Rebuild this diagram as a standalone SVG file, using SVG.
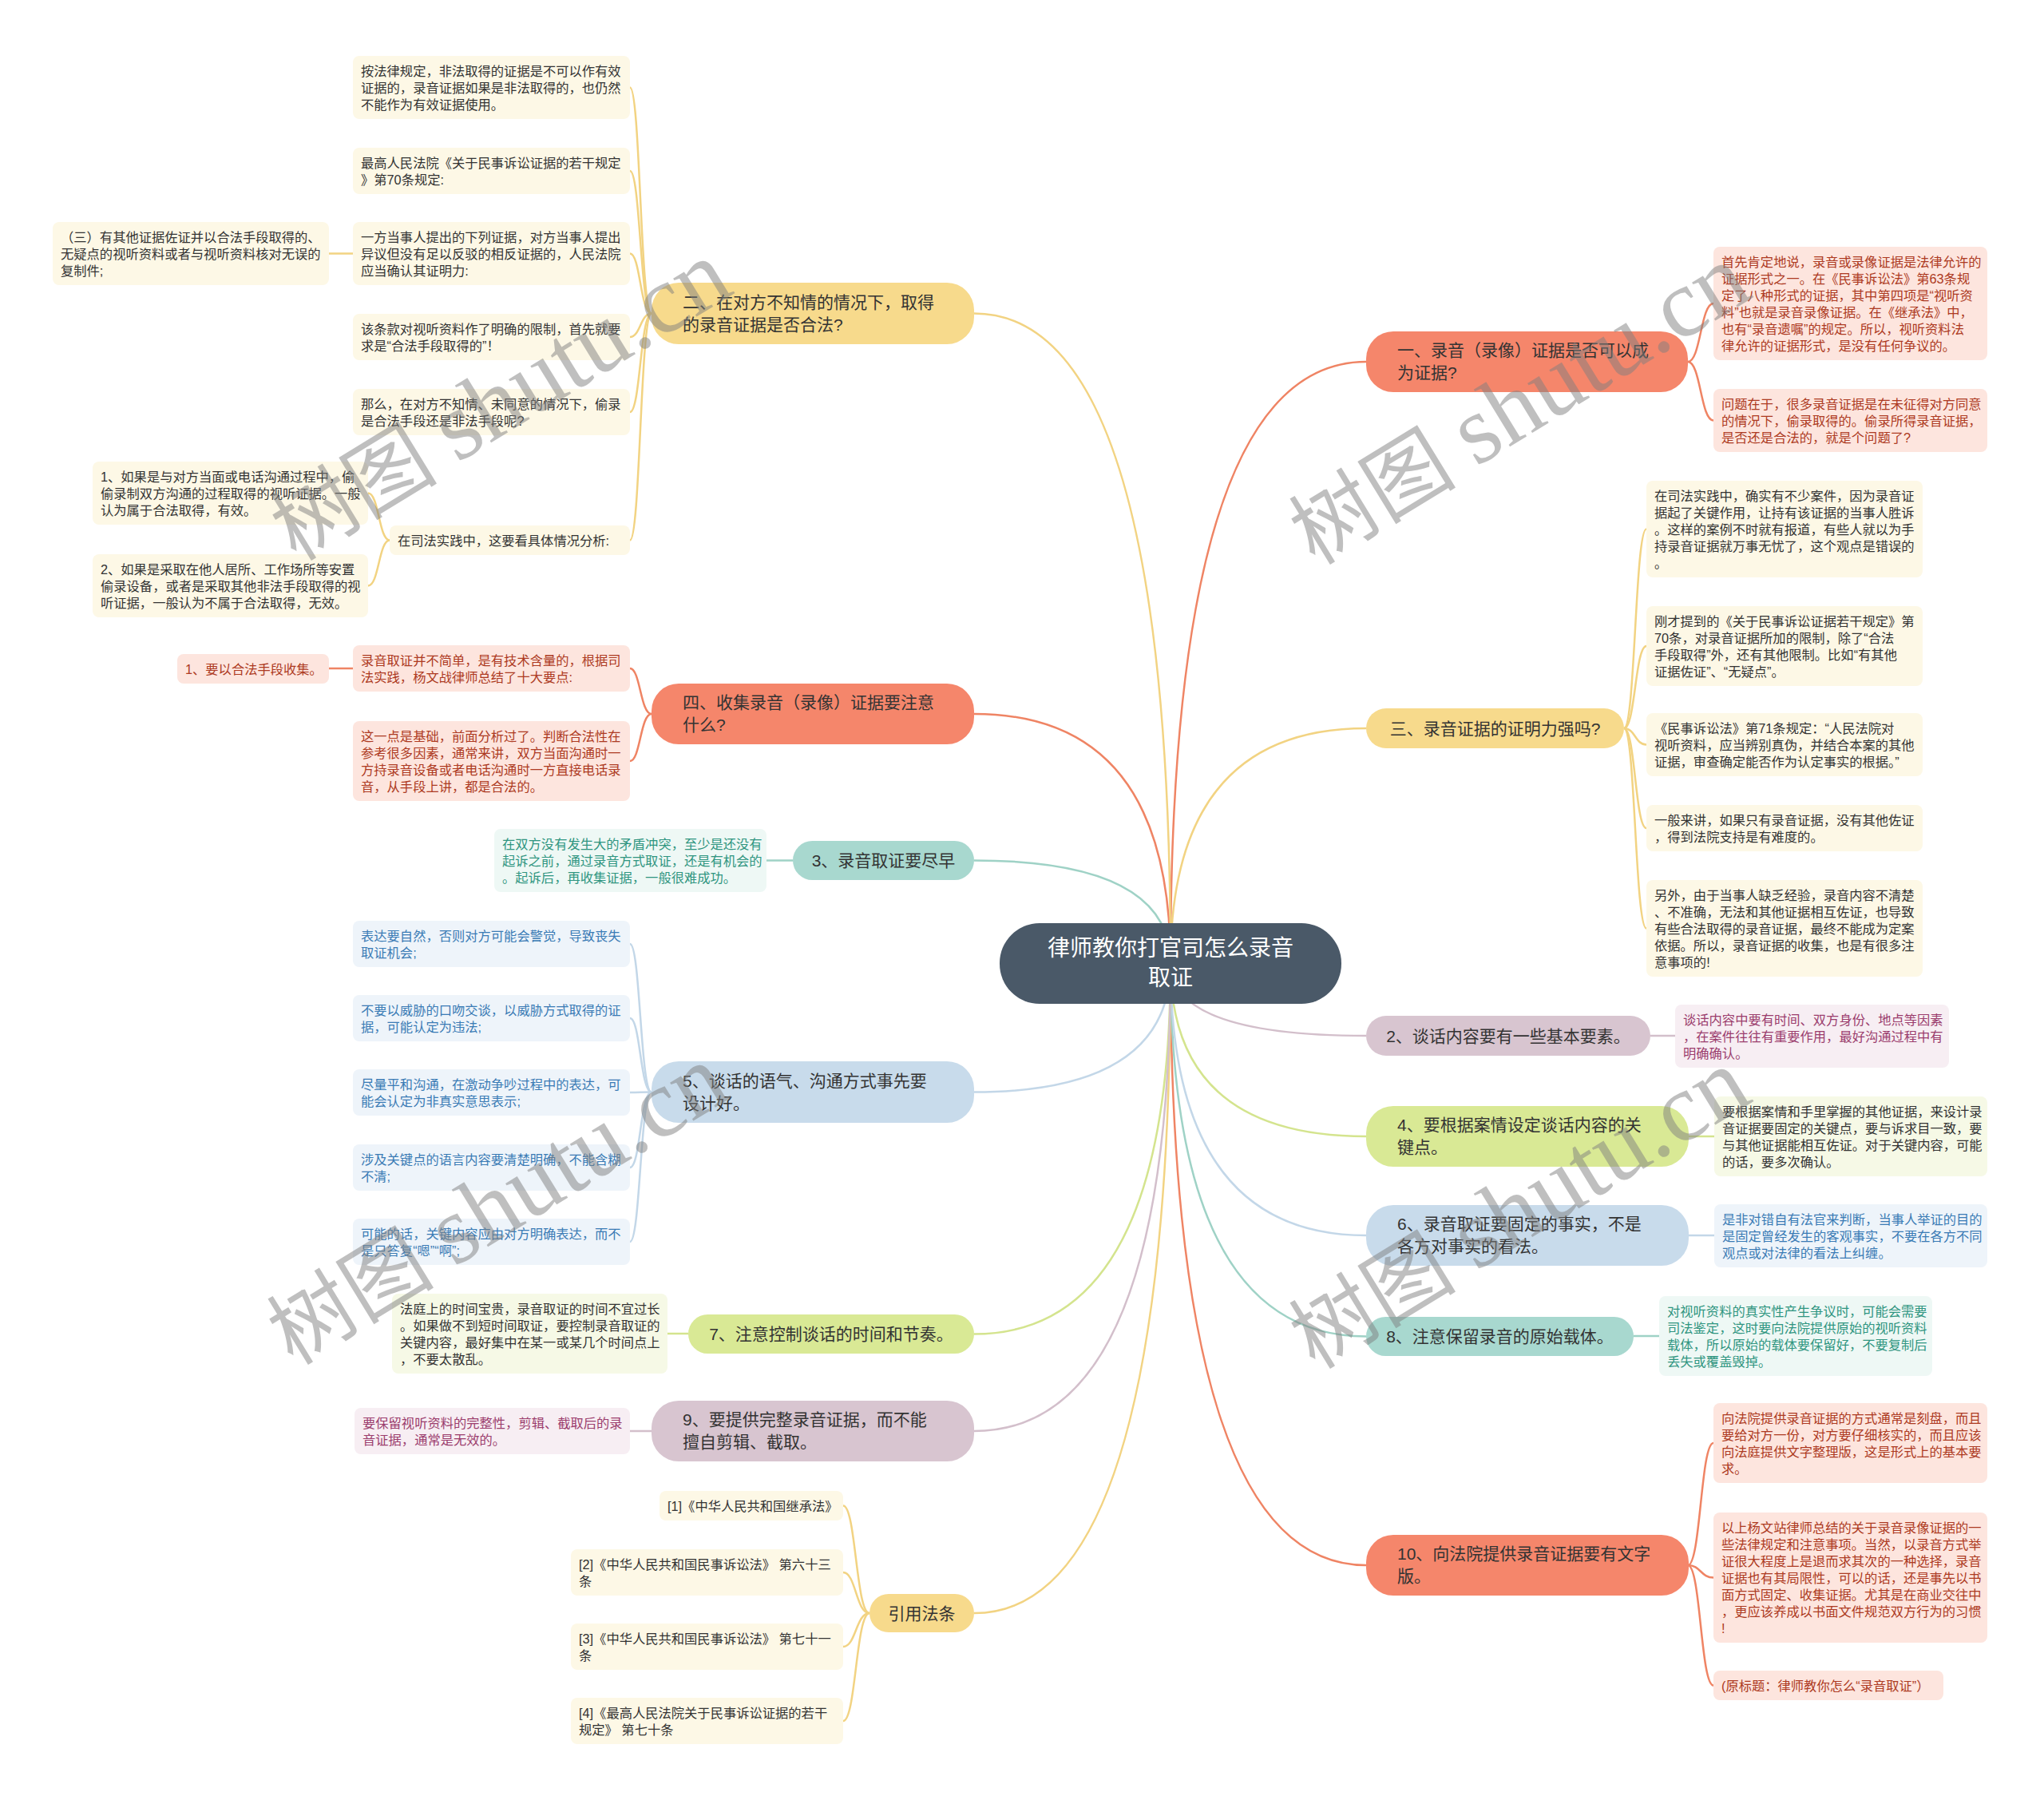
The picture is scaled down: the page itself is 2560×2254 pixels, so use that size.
<svg xmlns="http://www.w3.org/2000/svg" width="2560" height="2254" viewBox="0 0 2560 2254">
<style>
text{font-family:'Liberation Sans','Noto Sans CJK SC',sans-serif}
.lf{font-size:16.3px}
.nd{font-size:21px;fill:#333}
.ctr{font-size:28px;fill:#fff}
.tc{fill:#ad3a22}.td{fill:#333}.tt{fill:#2f9580}.tb{fill:#3a7bb5}.tm{fill:#9b3d6d}
.bc{fill:#fde5de}.by{fill:#fdf8e6}.bt{fill:#eef8f5}.bb{fill:#eef4fa}.bg{fill:#f6f9e6}.bm{fill:#f7eef3}
.nc{fill:#f5866b}.ny{fill:#f7da8c}.nt{fill:#a8d8cf}.nb{fill:#c8dbeb}.ng{fill:#d9e995}.nm{fill:#d8c5d0}
.cn path{fill:none;stroke-width:2.5}
.sc{stroke:#ef8464}.sy{stroke:#f2d382}.st{stroke:#9fd2c6}.sb{stroke:#c3d7e8}.sg{stroke:#d4e48e}.sm{stroke:#d3bfcb}
.wm{font-family:'Liberation Serif','Noto Sans CJK SC',serif;font-size:105px;fill:#808080;opacity:0.5}
.wl{font-size:122px}
</style>
<rect width="2560" height="2254" fill="#fff"/>
<g id="connectors" class="cn">
<g class="sc">
<path d="M1466 1206 Q1466 453 1711 453"/>
<path d="M1466 1206 Q1466 894 1220 894"/>
<path d="M1466 1206 Q1466 1960 1711 1960"/>
<path d="M2114 453 C2130 453 2130 380 2146 380"/>
<path d="M2114 453 C2130 453 2130 526.5 2146 526.5"/>
<path d="M816 894 C802 894 802 837 789 837"/>
<path d="M816 894 C802 894 802 953 789 953"/>
<path d="M442 837 L412 837"/>
<path d="M2114 1960 C2130 1960 2130 1807 2146 1807"/>
<path d="M2114 1960 C2130 1960 2130 1975.5 2146 1975.5"/>
<path d="M2114 1960 C2130 1960 2130 2110.5 2146 2110.5"/>
</g>
<g class="sy">
<path d="M1466 1206 Q1466 392.5 1220 392.5"/>
<path d="M1466 1206 Q1466 912 1711 912"/>
<path d="M1466 1206 Q1466 2020 1220 2020"/>
<path d="M816 392.5 C802 392.5 802 109.5 789 109.5"/>
<path d="M816 392.5 C802 392.5 802 214 789 214"/>
<path d="M816 392.5 C802 392.5 802 317.5 789 317.5"/>
<path d="M816 392.5 C802 392.5 802 422 789 422"/>
<path d="M816 392.5 C802 392.5 802 516 789 516"/>
<path d="M816 392.5 C802 392.5 802 676.5 789 676.5"/>
<path d="M442 317.5 L412 317.5"/>
<path d="M488 676.5 C474.5 676.5 474.5 617.5 461 617.5"/>
<path d="M488 676.5 C474.5 676.5 474.5 733.5 461 733.5"/>
<path d="M2034 912 C2048 912 2048 662.5 2062 662.5"/>
<path d="M2034 912 C2048 912 2048 809 2062 809"/>
<path d="M2034 912 C2048 912 2048 932.5 2062 932.5"/>
<path d="M2034 912 C2048 912 2048 1037 2062 1037"/>
<path d="M2034 912 C2048 912 2048 1162.5 2062 1162.5"/>
<path d="M1089 2020 C1072 2020 1072 1885.5 1056 1885.5"/>
<path d="M1089 2020 C1072 2020 1072 1969 1056 1969"/>
<path d="M1089 2020 C1072 2020 1072 2062 1056 2062"/>
<path d="M1089 2020 C1072 2020 1072 2155 1056 2155"/>
</g>
<g class="st">
<path d="M1466 1206 Q1466 1077.5 1220 1077.5"/>
<path d="M1466 1206 Q1466 1673.5 1711 1673.5"/>
<path d="M993 1077.5 L960 1077.5"/>
<path d="M2046 1673 L2078 1673"/>
</g>
<g class="sb">
<path d="M1466 1206 Q1466 1367.5 1220 1367.5"/>
<path d="M1466 1206 Q1466 1547 1711 1547"/>
<path d="M816 1367.5 C802 1367.5 802 1182 789 1182"/>
<path d="M816 1367.5 C802 1367.5 802 1275 789 1275"/>
<path d="M816 1367.5 C802 1367.5 802 1368 789 1368"/>
<path d="M816 1367.5 C802 1367.5 802 1462 789 1462"/>
<path d="M816 1367.5 C802 1367.5 802 1555 789 1555"/>
<path d="M2115 1547 L2147 1547"/>
</g>
<g class="sg">
<path d="M1466 1206 Q1466 1670.5 1220 1670.5"/>
<path d="M1466 1206 Q1466 1423 1711 1423"/>
<path d="M862 1670 L836 1670"/>
<path d="M2115 1423 L2147 1423"/>
</g>
<g class="sm">
<path d="M1466 1206 Q1466 1792 1220 1792"/>
<path d="M1466 1206 Q1466 1297 1711 1297"/>
<path d="M816 1792 L789 1792"/>
<path d="M2067 1297 L2098 1297"/>
</g>
</g>

<g id="center">
<rect x="1252" y="1156" width="428" height="101" rx="50" fill="#4a5968"/>
<text class="ctr" text-anchor="middle"><tspan x="1466" y="1197">律师教你打官司怎么录音</tspan><tspan x="1466" y="1234">取证</tspan></text>
</g>

<g id="n-er">
<rect class="ny" x="816" y="354" width="404" height="77" rx="34"/>
<text class="nd"><tspan x="855" y="386">二、在对方不知情的情况下，取得</tspan><tspan x="855" y="414">的录音证据是否合法?</tspan></text>
</g>
<g id="n-er-1"><rect class="by" x="442" y="70" width="347" height="79" rx="8"/>
<text class="lf td"><tspan x="452" y="95">按法律规定，非法取得的证据是不可以作有效</tspan><tspan x="452" y="116">证据的，录音证据如果是非法取得的，也仍然</tspan><tspan x="452" y="137">不能作为有效证据使用。</tspan></text></g>
<g id="n-er-2"><rect class="by" x="442" y="185" width="347" height="58" rx="8"/>
<text class="lf td"><tspan x="452" y="210">最高人民法院《关于民事诉讼证据的若干规定</tspan><tspan x="452" y="231">》第70条规定:</tspan></text></g>
<g id="n-er-3"><rect class="by" x="442" y="278" width="347" height="79" rx="8"/>
<text class="lf td"><tspan x="452" y="303">一方当事人提出的下列证据，对方当事人提出</tspan><tspan x="452" y="324">异议但没有足以反驳的相反证据的，人民法院</tspan><tspan x="452" y="345">应当确认其证明力:</tspan></text></g>
<g id="n-er-3a"><rect class="by" x="66" y="278" width="346" height="79" rx="8"/>
<text class="lf td"><tspan x="76" y="303">（三）有其他证据佐证并以合法手段取得的、</tspan><tspan x="76" y="324">无疑点的视听资料或者与视听资料核对无误的</tspan><tspan x="76" y="345">复制件;</tspan></text></g>
<g id="n-er-4"><rect class="by" x="442" y="393" width="347" height="58" rx="8"/>
<text class="lf td"><tspan x="452" y="418">该条款对视听资料作了明确的限制，首先就要</tspan><tspan x="452" y="439">求是“合法手段取得的”！</tspan></text></g>
<g id="n-er-5"><rect class="by" x="442" y="487" width="347" height="58" rx="8"/>
<text class="lf td"><tspan x="452" y="512">那么，在对方不知情、未同意的情况下，偷录</tspan><tspan x="452" y="533">是合法手段还是非法手段呢?</tspan></text></g>
<g id="n-er-6"><rect class="by" x="488" y="658" width="301" height="37" rx="8"/>
<text class="lf td"><tspan x="498" y="683">在司法实践中，这要看具体情况分析:</tspan></text></g>
<g id="n-er-6a"><rect class="by" x="116" y="578" width="345" height="79" rx="8"/>
<text class="lf td"><tspan x="126" y="603">1、如果是与对方当面或电话沟通过程中，偷</tspan><tspan x="126" y="624">偷录制双方沟通的过程取得的视听证据。一般</tspan><tspan x="126" y="645">认为属于合法取得，有效。</tspan></text></g>
<g id="n-er-6b"><rect class="by" x="116" y="694" width="345" height="79" rx="8"/>
<text class="lf td"><tspan x="126" y="719">2、如果是采取在他人居所、工作场所等安置</tspan><tspan x="126" y="740">偷录设备，或者是采取其他非法手段取得的视</tspan><tspan x="126" y="761">听证据，一般认为不属于合法取得，无效。</tspan></text></g>

<g id="n-si">
<rect class="nc" x="816" y="856" width="404" height="76" rx="34"/>
<text class="nd"><tspan x="855" y="887">四、收集录音（录像）证据要注意</tspan><tspan x="855" y="915">什么?</tspan></text>
</g>
<g id="n-si-1"><rect class="bc" x="442" y="808" width="347" height="58" rx="8"/>
<text class="lf tc"><tspan x="452" y="833">录音取证并不简单，是有技术含量的，根据司</tspan><tspan x="452" y="854">法实践，杨文战律师总结了十大要点:</tspan></text></g>
<g id="n-si-1a"><rect class="bc" x="222" y="819" width="190" height="37" rx="8"/>
<text class="lf tc"><tspan x="232" y="844">1、要以合法手段收集。</tspan></text></g>
<g id="n-si-2"><rect class="bc" x="442" y="903" width="347" height="100" rx="8"/>
<text class="lf tc"><tspan x="452" y="928">这一点是基础，前面分析过了。判断合法性在</tspan><tspan x="452" y="949">参考很多因素，通常来讲，双方当面沟通时一</tspan><tspan x="452" y="970">方持录音设备或者电话沟通时一方直接电话录</tspan><tspan x="452" y="991">音，从手段上讲，都是合法的。</tspan></text></g>

<g id="n-3">
<rect class="nt" x="993" y="1053" width="227" height="49" rx="24.5"/>
<text class="nd" x="1106.5" y="1085" text-anchor="middle">3、录音取证要尽早</text>
</g>
<g id="n-3-1"><rect class="bt" x="619" y="1038" width="341" height="79" rx="8"/>
<text class="lf tt"><tspan x="629" y="1063">在双方没有发生大的矛盾冲突，至少是还没有</tspan><tspan x="629" y="1084">起诉之前，通过录音方式取证，还是有机会的</tspan><tspan x="629" y="1105">。起诉后，再收集证据，一般很难成功。</tspan></text></g>

<g id="n-5">
<rect class="nb" x="816" y="1329" width="404" height="77" rx="34"/>
<text class="nd"><tspan x="855" y="1361">5、谈话的语气、沟通方式事先要</tspan><tspan x="855" y="1389">设计好。</tspan></text>
</g>
<g id="n-5-1"><rect class="bb" x="442" y="1153" width="347" height="58" rx="8"/>
<text class="lf tb"><tspan x="452" y="1178">表达要自然，否则对方可能会警觉，导致丧失</tspan><tspan x="452" y="1199">取证机会;</tspan></text></g>
<g id="n-5-2"><rect class="bb" x="442" y="1246" width="347" height="58" rx="8"/>
<text class="lf tb"><tspan x="452" y="1271">不要以威胁的口吻交谈，以威胁方式取得的证</tspan><tspan x="452" y="1292">据，可能认定为违法;</tspan></text></g>
<g id="n-5-3"><rect class="bb" x="442" y="1339" width="347" height="58" rx="8"/>
<text class="lf tb"><tspan x="452" y="1364">尽量平和沟通，在激动争吵过程中的表达，可</tspan><tspan x="452" y="1385">能会认定为非真实意思表示;</tspan></text></g>
<g id="n-5-4"><rect class="bb" x="442" y="1433" width="347" height="58" rx="8"/>
<text class="lf tb"><tspan x="452" y="1458">涉及关键点的语言内容要清楚明确，不能含糊</tspan><tspan x="452" y="1479">不清;</tspan></text></g>
<g id="n-5-5"><rect class="bb" x="442" y="1526" width="347" height="58" rx="8"/>
<text class="lf tb"><tspan x="452" y="1551">可能的话，关键内容应由对方明确表达，而不</tspan><tspan x="452" y="1572">是只答复“嗯”“啊”;</tspan></text></g>

<g id="n-7">
<rect class="ng" x="862" y="1646" width="358" height="49" rx="24.5"/>
<text class="nd" x="1041" y="1678" text-anchor="middle">7、注意控制谈话的时间和节奏。</text>
</g>
<g id="n-7-1"><rect class="bg" x="491" y="1620" width="345" height="100" rx="8"/>
<text class="lf td"><tspan x="501" y="1645">法庭上的时间宝贵，录音取证的时间不宜过长</tspan><tspan x="501" y="1666">。如果做不到短时间取证，要控制录音取证的</tspan><tspan x="501" y="1687">关键内容，最好集中在某一或某几个时间点上</tspan><tspan x="501" y="1708">，不要太散乱。</tspan></text></g>

<g id="n-9">
<rect class="nm" x="816" y="1754" width="404" height="76" rx="34"/>
<text class="nd"><tspan x="855" y="1785">9、要提供完整录音证据，而不能</tspan><tspan x="855" y="1813">擅自剪辑、截取。</tspan></text>
</g>
<g id="n-9-1"><rect class="bm" x="444" y="1763" width="345" height="58" rx="8"/>
<text class="lf tm"><tspan x="454" y="1788">要保留视听资料的完整性，剪辑、截取后的录</tspan><tspan x="454" y="1809">音证据，通常是无效的。</tspan></text></g>

<g id="n-ref">
<rect class="ny" x="1089" y="1996" width="131" height="48" rx="24"/>
<text class="nd" x="1154.5" y="2027.5" text-anchor="middle">引用法条</text>
</g>
<g id="n-ref-1"><rect class="by" x="826" y="1867" width="230" height="37" rx="8"/>
<text class="lf td"><tspan x="836" y="1892">[1]《中华人民共和国继承法》</tspan></text></g>
<g id="n-ref-2"><rect class="by" x="715" y="1940" width="341" height="58" rx="8"/>
<text class="lf td"><tspan x="725" y="1965">[2]《中华人民共和国民事诉讼法》 第六十三</tspan><tspan x="725" y="1986">条</tspan></text></g>
<g id="n-ref-3"><rect class="by" x="715" y="2033" width="341" height="58" rx="8"/>
<text class="lf td"><tspan x="725" y="2058">[3]《中华人民共和国民事诉讼法》 第七十一</tspan><tspan x="725" y="2079">条</tspan></text></g>
<g id="n-ref-4"><rect class="by" x="715" y="2126" width="341" height="58" rx="8"/>
<text class="lf td"><tspan x="725" y="2151">[4]《最高人民法院关于民事诉讼证据的若干</tspan><tspan x="725" y="2172">规定》 第七十条</tspan></text></g>

<g id="n-yi">
<rect class="nc" x="1711" y="415" width="403" height="76" rx="34"/>
<text class="nd"><tspan x="1750" y="446">一、录音（录像）证据是否可以成</tspan><tspan x="1750" y="474">为证据?</tspan></text>
</g>
<g id="n-yi-1"><rect class="bc" x="2146" y="309" width="343" height="142" rx="8"/>
<text class="lf tc"><tspan x="2156" y="334">首先肯定地说，录音或录像证据是法律允许的</tspan><tspan x="2156" y="355">证据形式之一。在《民事诉讼法》第63条规</tspan><tspan x="2156" y="376">定了八种形式的证据，其中第四项是“视听资</tspan><tspan x="2156" y="397">料”也就是录音录像证据。在《继承法》中，</tspan><tspan x="2156" y="418">也有“录音遗嘱”的规定。所以，视听资料法</tspan><tspan x="2156" y="439">律允许的证据形式，是没有任何争议的。</tspan></text></g>
<g id="n-yi-2"><rect class="bc" x="2146" y="487" width="343" height="79" rx="8"/>
<text class="lf tc"><tspan x="2156" y="512">问题在于，很多录音证据是在未征得对方同意</tspan><tspan x="2156" y="533">的情况下，偷录取得的。偷录所得录音证据，</tspan><tspan x="2156" y="554">是否还是合法的，就是个问题了?</tspan></text></g>

<g id="n-san">
<rect class="ny" x="1711" y="887" width="323" height="50" rx="25"/>
<text class="nd" x="1872.5" y="919.5" text-anchor="middle">三、录音证据的证明力强吗?</text>
</g>
<g id="n-san-1"><rect class="by" x="2062" y="602" width="346" height="121" rx="8"/>
<text class="lf td"><tspan x="2072" y="627">在司法实践中，确实有不少案件，因为录音证</tspan><tspan x="2072" y="648">据起了关键作用，让持有该证据的当事人胜诉</tspan><tspan x="2072" y="669">。这样的案例不时就有报道，有些人就以为手</tspan><tspan x="2072" y="690">持录音证据就万事无忧了，这个观点是错误的</tspan><tspan x="2072" y="711">。</tspan></text></g>
<g id="n-san-2"><rect class="by" x="2062" y="759" width="346" height="100" rx="8"/>
<text class="lf td"><tspan x="2072" y="784">刚才提到的《关于民事诉讼证据若干规定》第</tspan><tspan x="2072" y="805">70条，对录音证据所加的限制，除了“合法</tspan><tspan x="2072" y="826">手段取得”外，还有其他限制。比如“有其他</tspan><tspan x="2072" y="847">证据佐证”、“无疑点”。</tspan></text></g>
<g id="n-san-3"><rect class="by" x="2062" y="893" width="346" height="79" rx="8"/>
<text class="lf td"><tspan x="2072" y="918">《民事诉讼法》第71条规定：“人民法院对</tspan><tspan x="2072" y="939">视听资料，应当辨别真伪，并结合本案的其他</tspan><tspan x="2072" y="960">证据，审查确定能否作为认定事实的根据。”</tspan></text></g>
<g id="n-san-4"><rect class="by" x="2062" y="1008" width="346" height="58" rx="8"/>
<text class="lf td"><tspan x="2072" y="1033">一般来讲，如果只有录音证据，没有其他佐证</tspan><tspan x="2072" y="1054">，得到法院支持是有难度的。</tspan></text></g>
<g id="n-san-5"><rect class="by" x="2062" y="1102" width="346" height="121" rx="8"/>
<text class="lf td"><tspan x="2072" y="1127">另外，由于当事人缺乏经验，录音内容不清楚</tspan><tspan x="2072" y="1148">、不准确，无法和其他证据相互佐证，也导致</tspan><tspan x="2072" y="1169">有些合法取得的录音证据，最终不能成为定案</tspan><tspan x="2072" y="1190">依据。所以，录音证据的收集，也是有很多注</tspan><tspan x="2072" y="1211">意事项的!</tspan></text></g>

<g id="n-2">
<rect class="nm" x="1711" y="1272" width="356" height="50" rx="25"/>
<text class="nd" x="1889" y="1304.5" text-anchor="middle">2、谈话内容要有一些基本要素。</text>
</g>
<g id="n-2-1"><rect class="bm" x="2098" y="1258" width="343" height="79" rx="8"/>
<text class="lf tm"><tspan x="2108" y="1283">谈话内容中要有时间、双方身份、地点等因素</tspan><tspan x="2108" y="1304">，在案件往往有重要作用，最好沟通过程中有</tspan><tspan x="2108" y="1325">明确确认。</tspan></text></g>

<g id="n-4">
<rect class="ng" x="1711" y="1385" width="404" height="76" rx="34"/>
<text class="nd"><tspan x="1750" y="1416">4、要根据案情设定谈话内容的关</tspan><tspan x="1750" y="1444">键点。</tspan></text>
</g>
<g id="n-4-1"><rect class="bg" x="2147" y="1373" width="342" height="100" rx="8"/>
<text class="lf td"><tspan x="2157" y="1398">要根据案情和手里掌握的其他证据，来设计录</tspan><tspan x="2157" y="1419">音证据要固定的关键点，要与诉求目一致，要</tspan><tspan x="2157" y="1440">与其他证据能相互佐证。对于关键内容，可能</tspan><tspan x="2157" y="1461">的话，要多次确认。</tspan></text></g>

<g id="n-6">
<rect class="nb" x="1711" y="1509" width="404" height="76" rx="34"/>
<text class="nd"><tspan x="1750" y="1540">6、录音取证要固定的事实，不是</tspan><tspan x="1750" y="1568">各方对事实的看法。</tspan></text>
</g>
<g id="n-6-1"><rect class="bb" x="2147" y="1508" width="342" height="79" rx="8"/>
<text class="lf tb"><tspan x="2157" y="1533">是非对错自有法官来判断，当事人举证的目的</tspan><tspan x="2157" y="1554">是固定曾经发生的客观事实，不要在各方不同</tspan><tspan x="2157" y="1575">观点或对法律的看法上纠缠。</tspan></text></g>

<g id="n-8">
<rect class="nt" x="1711" y="1649" width="335" height="49" rx="24.5"/>
<text class="nd" x="1878.5" y="1681" text-anchor="middle">8、注意保留录音的原始载体。</text>
</g>
<g id="n-8-1"><rect class="bt" x="2078" y="1623" width="342" height="100" rx="8"/>
<text class="lf tt"><tspan x="2088" y="1648">对视听资料的真实性产生争议时，可能会需要</tspan><tspan x="2088" y="1669">司法鉴定，这时要向法院提供原始的视听资料</tspan><tspan x="2088" y="1690">载体，所以原始的载体要保留好，不要复制后</tspan><tspan x="2088" y="1711">丢失或覆盖毁掉。</tspan></text></g>

<g id="n-10">
<rect class="nc" x="1711" y="1922" width="404" height="76" rx="34"/>
<text class="nd"><tspan x="1750" y="1953">10、向法院提供录音证据要有文字</tspan><tspan x="1750" y="1981">版。</tspan></text>
</g>
<g id="n-10-1"><rect class="bc" x="2146" y="1757" width="343" height="100" rx="8"/>
<text class="lf tc"><tspan x="2156" y="1782">向法院提供录音证据的方式通常是刻盘，而且</tspan><tspan x="2156" y="1803">要给对方一份，对方要仔细核实的，而且应该</tspan><tspan x="2156" y="1824">向法庭提供文字整理版，这是形式上的基本要</tspan><tspan x="2156" y="1845">求。</tspan></text></g>
<g id="n-10-2"><rect class="bc" x="2146" y="1894" width="343" height="163" rx="8"/>
<text class="lf tc"><tspan x="2156" y="1919">以上杨文站律师总结的关于录音录像证据的一</tspan><tspan x="2156" y="1940">些法律规定和注意事项。当然，以录音方式举</tspan><tspan x="2156" y="1961">证很大程度上是退而求其次的一种选择，录音</tspan><tspan x="2156" y="1982">证据也有其局限性，可以的话，还是事先以书</tspan><tspan x="2156" y="2003">面方式固定、收集证据。尤其是在商业交往中</tspan><tspan x="2156" y="2024">，更应该养成以书面文件规范双方行为的习惯</tspan><tspan x="2156" y="2045">!</tspan></text></g>
<g id="n-10-3"><rect class="bc" x="2146" y="2092" width="288" height="37" rx="8"/>
<text class="lf tc"><tspan x="2156" y="2117">(原标题：律师教你怎么“录音取证”）</tspan></text></g>

<g id="watermarks">
<text class="wm" transform="translate(396,645) rotate(-31.5)" x="-52" y="37">树图 <tspan class="wl">shutu.cn</tspan></text>
<text class="wm" transform="translate(1672,650) rotate(-31.5)" x="-52" y="37">树图 <tspan class="wl">shutu.cn</tspan></text>
<text class="wm" transform="translate(392,1652) rotate(-31.5)" x="-52" y="37">树图 <tspan class="wl">shutu.cn</tspan></text>
<text class="wm" transform="translate(1672,1657) rotate(-31.5)" x="-52" y="37">树图 <tspan class="wl">shutu.cn</tspan></text>
</g>
</svg>
